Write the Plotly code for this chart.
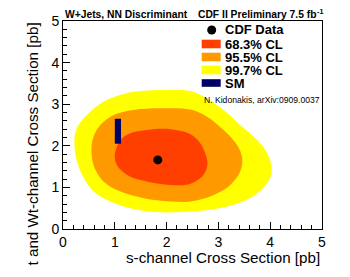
import plotly.graph_objects as go

# ---- data ----
cl997_x = [0.22, 0.27, 0.46, 0.78, 1.24, 1.88, 2.46, 2.78, 3.10, 3.42, 3.75, 3.94, 4.03, 4.00, 3.87, 3.62, 3.29, 2.84, 2.46, 1.88, 1.36, 0.91, 0.59, 0.40, 0.27, 0.22]
cl997_y = [2.14, 2.43, 2.74, 3.06, 3.27, 3.34, 3.32, 3.14, 2.86, 2.50, 2.14, 1.83, 1.46, 1.23, 0.99, 0.75, 0.58, 0.46, 0.42, 0.40, 0.48, 0.66, 0.90, 1.23, 1.62, 2.14]

cl955_x = [0.55, 0.59, 0.72, 0.98, 1.36, 1.88, 2.46, 2.78, 3.10, 3.36, 3.46, 3.42, 3.23, 2.91, 2.46, 2.07, 1.56, 1.11, 0.78, 0.59, 0.55]
cl955_y = [1.94, 2.22, 2.50, 2.74, 2.86, 2.90, 2.87, 2.70, 2.38, 2.02, 1.70, 1.38, 1.06, 0.82, 0.66, 0.66, 0.74, 0.90, 1.14, 1.54, 1.94]

cl683_x = [1.00, 1.11, 1.30, 1.62, 2.07, 2.46, 2.65, 2.79, 2.71, 2.46, 2.07, 1.62, 1.24, 1.04, 1.00]
cl683_y = [1.78, 2.14, 2.30, 2.38, 2.40, 2.28, 2.06, 1.58, 1.30, 1.09, 1.06, 1.14, 1.30, 1.54, 1.78]

data_x = [1.83]
data_y = [1.66]

sm_x = [1.00, 1.12]
sm_y = [2.05, 2.65]

x_ticks = [0, 1, 2, 3, 4, 5]
y_ticks = [0, 1, 2, 3, 4, 5]

legend_labels = ["CDF Data", "68.3% CL", "95.5% CL", "99.7% CL", "SM"]

RED = "#ff3f00"
ORANGE = "#ff9900"
YELLOW = "#ffff00"
NAVY = "#000066"
FONT = "Liberation Sans, Arial, sans-serif"

W, H = 350, 277
OFF = 8  # page body margin offset
L, R, T, B = 63, 28, 21, 48
PW, PH = W - L - R, H - T - B


def px(x):
    return (x - L) / PW


def py(y):
    return (H - B - y) / PH


fig = go.Figure()
for xs, ys, c in [(cl997_x, cl997_y, YELLOW), (cl955_x, cl955_y, ORANGE), (cl683_x, cl683_y, RED)]:
    fig.add_trace(go.Scatter(x=xs, y=ys, mode="lines", fill="toself", fillcolor=c,
                             line=dict(color=c, width=0, shape="spline", smoothing=1.0),
                             hoverinfo="skip", showlegend=False))

fig.add_trace(go.Scatter(x=[sm_x[0], sm_x[1], sm_x[1], sm_x[0], sm_x[0]],
                         y=[sm_y[0], sm_y[0], sm_y[1], sm_y[1], sm_y[0]],
                         mode="lines", fill="toself", fillcolor=NAVY,
                         line=dict(color=NAVY, width=0), showlegend=False))

fig.add_trace(go.Scatter(x=data_x, y=data_y, mode="markers",
                         marker=dict(color="black", size=9), showlegend=False))

axis_common = dict(range=[0, 5], tickvals=x_ticks, ticks="inside", ticklen=7, tickwidth=1,
                   tickcolor="black", showgrid=False, zeroline=False, showline=True,
                   linecolor="black", linewidth=1, mirror=True, automargin=False,
                   tickfont=dict(family=FONT, size=14, color="black"),
                   minor=dict(dtick=0.2, ticks="inside", ticklen=4, tickcolor="black", showgrid=False))

fig.update_layout(
    template="none",
    width=W - OFF, height=H - OFF,
    margin=dict(l=L - OFF, r=R, t=T - OFF, b=B),
    paper_bgcolor="white", plot_bgcolor="white",
    xaxis=dict(**axis_common),
    yaxis=dict(**{**axis_common, "tickvals": y_ticks}),
    showlegend=False,
)

ann = []
# titles
ann.append(dict(text="<b>W+Jets, NN Discriminant</b>", x=px(63), y=py(14.5), xref="paper", yref="paper",
                xanchor="left", yanchor="middle", showarrow=False,
                font=dict(family=FONT, size=10.3, color="black")))
ann.append(dict(text="<b>CDF II Preliminary 7.5 fb</b>", x=px(316.5), y=py(14.5), xref="paper", yref="paper",
                xanchor="right", yanchor="middle", showarrow=False, borderpad=0,
                font=dict(family=FONT, size=10.3, color="black")))
ann.append(dict(text="<b>-1</b>", x=px(315.5), y=py(11.5), xref="paper", yref="paper",
                xanchor="left", yanchor="middle", showarrow=False, borderpad=0,
                font=dict(family=FONT, size=7.2, color="black")))
# axis titles
ann.append(dict(text="s-channel Cross Section [pb]", x=1, y=py(257), xref="paper", yref="paper",
                xanchor="right", yanchor="middle", showarrow=False,
                font=dict(family=FONT, size=15.2, color="black")))
ann.append(dict(text="t and Wt-channel Cross Section [pb]", x=px(32), y=1, xref="paper", yref="paper",
                xanchor="center", yanchor="top", textangle=-90, showarrow=False,
                font=dict(family=FONT, size=15.2, color="black")))

# legend
rows = [30, 44, 57, 70, 83]
shapes = []
shapes.append(dict(type="circle", xref="paper", yref="paper",
                   x0=px(207.2), x1=px(216.2), y0=py(25.5), y1=py(34.5),
                   fillcolor="black", line=dict(width=0)))
for yc, c in zip(rows[1:], [RED, ORANGE, YELLOW, NAVY]):
    h = 4.3 if c != NAVY else 3.8
    shapes.append(dict(type="rect", xref="paper", yref="paper",
                       x0=px(201.7), x1=px(220.7), y0=py(yc - h), y1=py(yc + h),
                       fillcolor=c, line=dict(width=0)))
for yc, lab in zip(rows, legend_labels):
    ann.append(dict(text="<b>" + lab + "</b>", x=px(223.5), y=py(yc), xref="paper", yref="paper",
                    xanchor="left", yanchor="middle", showarrow=False, borderpad=0,
                    font=dict(family=FONT, size=13, color="black")))
ann.append(dict(text="N. Kidonakis, arXiv:0909.0037", x=px(201.5), y=py(100), xref="paper", yref="paper",
                xanchor="left", yanchor="middle", showarrow=False,
                font=dict(family=FONT, size=8.6, color="black")))

fig.update_layout(annotations=ann, shapes=shapes)
fig.write_html("out.html")
